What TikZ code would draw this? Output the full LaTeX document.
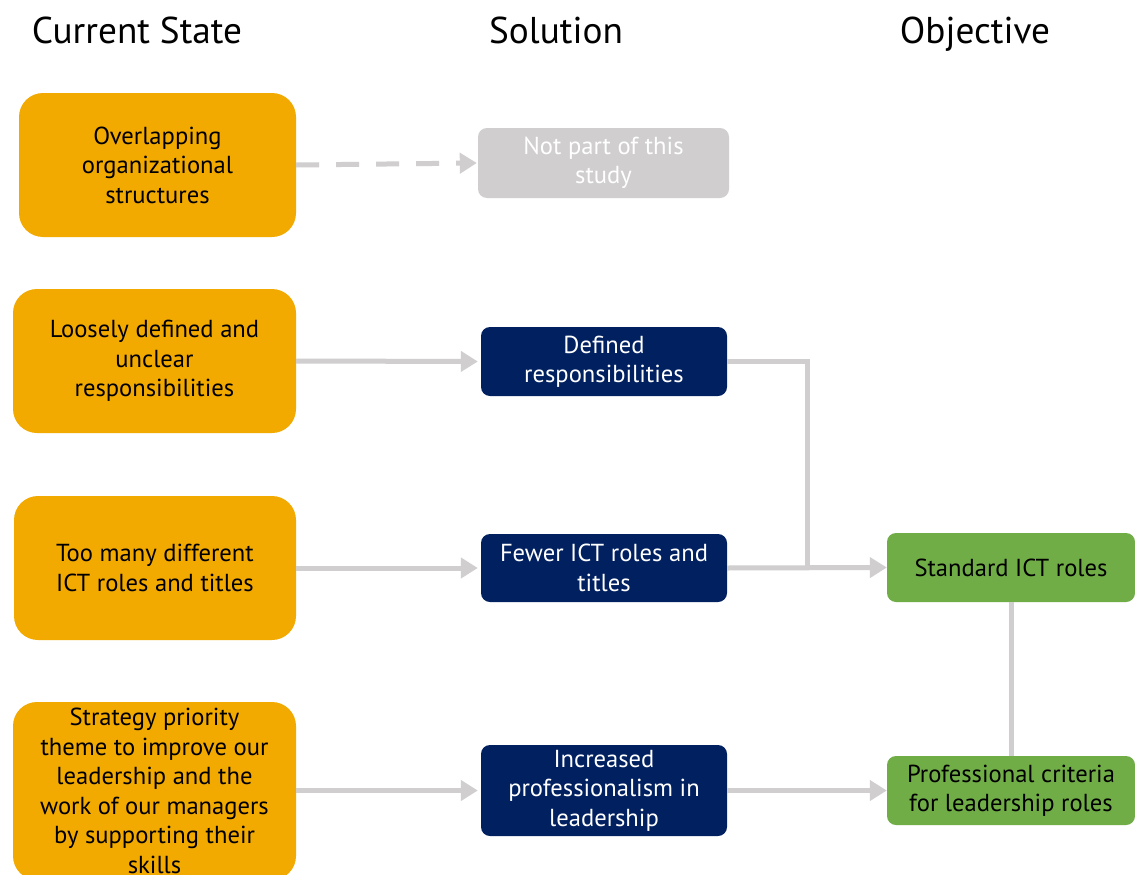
\documentclass[tikz,border=0pt]{standalone}
\usepackage{fontspec}
\setmainfont{PT Sans}
\usetikzlibrary{arrows.meta}
\definecolor{curorange}{HTML}{F2A900}
\definecolor{solnavy}{HTML}{002060}
\definecolor{objgreen}{HTML}{70AD47}
\definecolor{linkgray}{HTML}{D0CECE}
\tikzset{
  boxtext/.style={font=\fontsize{24.6}{29.5}\selectfont, align=center, inner sep=0pt},
  current/.style={boxtext, rectangle, fill=curorange, rounded corners=24pt, text=black},
  solution/.style={boxtext, rectangle, fill=solnavy, rounded corners=9pt, text=white, minimum width=246pt},
  excluded/.style={boxtext, rectangle, fill=linkgray, rounded corners=9pt, text=white},
  objective/.style={boxtext, rectangle, fill=objgreen, rounded corners=9pt, text=black, minimum width=248pt, minimum height=69pt},
  heading/.style={font=\fontsize{37.3}{44}\selectfont, inner sep=0pt, anchor=base},
  link/.style={draw=linkgray, line width=5pt},
  flow/.style={link, -{Triangle[length=17pt,width=20pt]}},
}
\begin{document}
\begin{tikzpicture}[x=1pt,y=-1pt]
\useasboundingbox (0,0) rectangle (1135,875);
\fill[white] (0,0) rectangle (1135,875);

% column headings
\node[heading] (hcur) at (137,44) {Current State};
\node[heading] (hsol) at (556,44) {Solution};
\node[heading] (hobj) at (975,44) {Objective};

% current state
\node[current, minimum width=277pt, minimum height=144pt] (c1) at (157.5,165) {Overlapping\\organizational\\structures};
\node[current, minimum width=283pt, minimum height=144pt] (c2) at (154.5,361) {Loosely defined and\\unclear\\responsibilities};
\node[current, minimum width=282pt, minimum height=144pt] (c3) at (155,568) {Too many different\\ICT roles and titles};
\node[current, minimum width=283pt, minimum height=178pt] (c4) at (154.5,791) {Strategy priority\\theme to improve our\\leadership and the\\work of our managers\\by supporting their\\skills};

% solution
\node[excluded, minimum width=251pt, minimum height=70pt] (s0) at (603.5,163) {Not part of this\\study};
\node[solution, minimum height=69pt] (s1) at (604,361.5) {Defined\\responsibilities};
\node[solution, minimum height=68pt] (s2) at (604,568) {Fewer ICT roles and\\titles};
\node[solution, minimum height=91pt] (s3) at (604,790.5) {Increased\\professionalism in\\leadership};

% objective
\node[objective] (o1) at (1011,567.5) {Standard ICT roles};
\node[objective] (o2) at (1011,790.5) {Professional criteria\\for leadership roles};

% connectors
\coordinate (join) at (807,568);
\draw[flow, dash pattern=on 23pt off 17pt] (c1.east) -- ([xshift=-1pt]s0.west);
\draw[flow] (c2.east) -- ([xshift=-3pt]s1.west);
\draw[flow] (c3.east) -- ([xshift=-3pt]s2.west);
\draw[flow] (c4.east |- s3.west) -- ([xshift=-3pt]s3.west);
\draw[link] (s1.east) -| (join);
\draw[flow] (s2.east) -- (o1.west);
\draw[flow] (s3.east) -- (o2.west);
\draw[link] (o1.south) -- (o2.north);
\end{tikzpicture}
\end{document}
